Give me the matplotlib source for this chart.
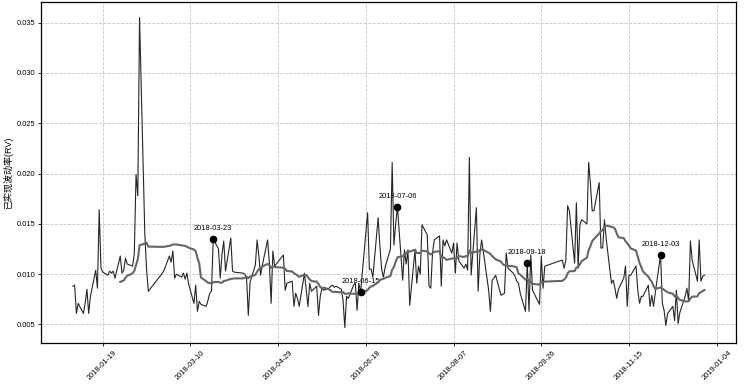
import matplotlib
matplotlib.use('Agg')
import matplotlib.pyplot as plt
import matplotlib.dates as mdates
import pandas as pd

plt.rcParams['font.family'] = ['Liberation Sans', 'Noto Sans CJK SC', 'DejaVu Sans']
plt.rcParams['axes.unicode_minus'] = False

# Chinese market holidays falling on weekdays in 2018
holidays = ['2018-02-15', '2018-02-16', '2018-02-19', '2018-02-20', '2018-02-21',
            '2018-04-05', '2018-04-06', '2018-04-30', '2018-05-01', '2018-06-18',
            '2018-09-24', '2018-10-01', '2018-10-02', '2018-10-03', '2018-10-04',
            '2018-10-05']

# daily realized volatility, month by month (trading days only)
rv_jan = [0.0088, 0.0089, 0.0061, 0.0071, 0.0061, 0.0071, 0.0085, 0.0061, 0.0078, 0.0104,
          0.0086, 0.0164, 0.0106, 0.0102, 0.0099, 0.0103, 0.0101, 0.0103, 0.0096, 0.0118,
          0.0101, 0.0104]
rv_feb = [0.0116, 0.0110, 0.0108, 0.0120, 0.0199, 0.0178, 0.0355, 0.0140, 0.0105, 0.0083,
          0.0101, 0.0104, 0.0118, 0.0112, 0.0123]
rv_mar = [0.0096, 0.0100, 0.0097, 0.0101, 0.0095, 0.0101, 0.0090, 0.0071, 0.0089, 0.0063,
          0.0073, 0.0070, 0.0068, 0.0074, 0.0081, 0.0083, 0.0135, 0.0125, 0.0096, 0.0120,
          0.0133, 0.0103]
rv_apr = [0.0136, 0.0103, 0.0102, 0.0101, 0.0100, 0.0096, 0.0059, 0.0092, 0.0109, 0.0134,
          0.0118, 0.0099, 0.0109, 0.0134, 0.0111, 0.0071, 0.0123, 0.0108]
rv_may = [0.0119, 0.0084, 0.0091, 0.0093, 0.0068, 0.0081, 0.0076, 0.0068, 0.0101, 0.0084,
          0.0068, 0.0091, 0.0083, 0.0088, 0.0059, 0.0078, 0.0086, 0.0084, 0.0086, 0.0088,
          0.0089, 0.0087]
rv_jun = [0.0088, 0.0085, 0.0074, 0.0047, 0.0078, 0.0076, 0.0089, 0.0091, 0.0064, 0.0091,
          0.0082, 0.0161, 0.0105, 0.0105, 0.0097, 0.0156, 0.0128, 0.0105, 0.0097, 0.0107]
rv_jul = [0.0125, 0.0211, 0.0129, 0.0150, 0.0167, 0.0094, 0.0124, 0.0110, 0.0124, 0.0069,
          0.0124, 0.0091, 0.0108, 0.0100, 0.0149, 0.0139, 0.0088, 0.0086, 0.0121, 0.0134,
          0.0138, 0.0088]
rv_aug = [0.0134, 0.0128, 0.0134, 0.0121, 0.0131, 0.0101, 0.0131, 0.0113, 0.0106, 0.0110,
          0.0104, 0.0216, 0.0099, 0.0166, 0.0083, 0.0120, 0.0134, 0.0122, 0.0084, 0.0063,
          0.0094, 0.0096, 0.0099]
rv_sep = [0.0079, 0.0080, 0.0081, 0.0121, 0.0106, 0.0101, 0.0098, 0.0093, 0.0091, 0.0081,
          0.0063, 0.0111, 0.0063, 0.0119, 0.0084, 0.0070, 0.0118, 0.0086, 0.0108]
rv_oct = [0.0114, 0.0106, 0.0114, 0.0168, 0.0163, 0.0111, 0.0171, 0.0106, 0.0149, 0.0154,
          0.0150, 0.0211, 0.0190, 0.0163, 0.0163, 0.0191, 0.0126, 0.0126]
rv_nov = [0.0154, 0.0135, 0.0091, 0.0094, 0.0086, 0.0076, 0.0085, 0.0096, 0.0108, 0.0068,
          0.0099, 0.0099, 0.0108, 0.0084, 0.0071, 0.0078, 0.0078, 0.0089, 0.0068, 0.0079,
          0.0068, 0.0082]
rv_dec = [0.0119, 0.0071, 0.0064, 0.0049, 0.0061, 0.0068, 0.0054, 0.0084, 0.0051, 0.0062,
          0.0078, 0.0086, 0.0073, 0.0133, 0.0114, 0.0093, 0.0134, 0.0093, 0.0098, 0.0099]

event_dates = ['2018-03-23', '2018-06-15', '2018-07-06', '2018-09-18', '2018-12-03']
tick_dates = ['2018-01-19', '2018-03-10', '2018-04-29', '2018-06-18',
              '2018-08-07', '2018-09-26', '2018-11-15', '2019-01-04']
y_ticks = [0.005, 0.010, 0.015, 0.020, 0.025, 0.030, 0.035]

dates = pd.bdate_range('2018-01-02', '2018-12-28', freq='C', holidays=holidays)
rv = pd.Series(rv_jan + rv_feb + rv_mar + rv_apr + rv_may + rv_jun + rv_jul +
               rv_aug + rv_sep + rv_oct + rv_nov + rv_dec, index=dates)
ma = rv.rolling(20).mean()

fig = plt.figure(figsize=(7.47, 3.87), dpi=100)
ax = fig.add_axes([0.0553, 0.1137, 0.9300, 0.8811])

ax.plot(rv.index, rv.values, color='#262626', lw=0.8, zorder=3)
ax.plot(ma.index, ma.values, color='#666666', lw=1.5, zorder=3)

ev = pd.to_datetime(event_dates)
ax.plot(ev, rv[ev].values, 'o', color='black', ms=4.5, zorder=4)
for d in ev:
    ax.annotate(d.strftime('%Y-%m-%d'), (d, rv[d]), xytext=(0, 5),
                textcoords='offset points', ha='center', va='bottom',
                fontsize=5.4, zorder=2)

ax.set_xticks(pd.to_datetime(tick_dates))
ax.xaxis.set_major_formatter(mdates.DateFormatter('%Y-%m-%d'))
ax.set_yticks(y_ticks)
ax.yaxis.set_major_formatter(plt.FormatStrFormatter('%.3f'))
ax.tick_params(labelsize=5.4, length=2.5, width=0.6, pad=2)
plt.setp(ax.get_xticklabels(), rotation=45)

ax.set_ylabel('已实现波动率(RV)', fontsize=6.5, labelpad=2)
ax.grid(True, linestyle='--', color='#c8c8c8', linewidth=0.6)
for s in ax.spines.values():
    s.set_linewidth(0.9)

fig.savefig('out.png', dpi=100)
